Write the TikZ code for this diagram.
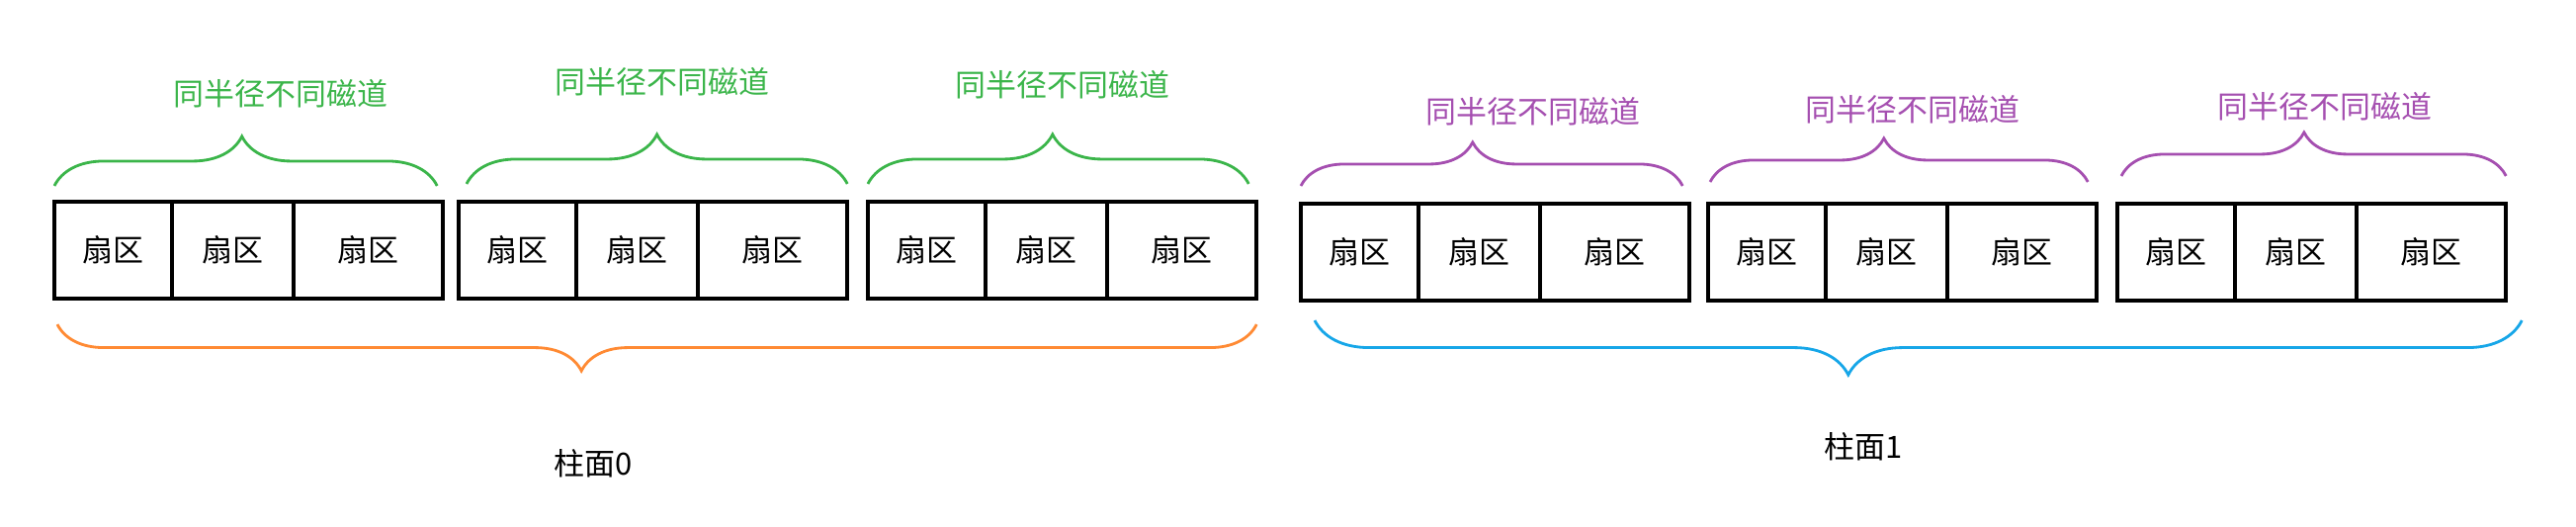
\documentclass[tikz,border=0pt]{standalone}
\usepackage{fontspec}
\newfontfamily\cjk{Noto Sans CJK SC}
\usetikzlibrary{positioning,decorations.pathreplacing}
\definecolor{trackgreen}{RGB}{59,181,74}
\definecolor{trackpurple}{RGB}{165,79,176}
\definecolor{cylorange}{RGB}{255,138,51}
\definecolor{cylblue}{RGB}{22,166,232}

\begin{document}
\begin{tikzpicture}[x=0.01cm, y=0.01cm,
		sector/.style={draw, line width=1.1pt, minimum height=0.98cm, inner sep=0pt,
			outer sep=0pt, font=\cjk\fontsize{8.8}{10}\selectfont},
		sectorA/.style={sector, minimum width=1.19cm},
		sectorB/.style={sector, minimum width=1.23cm},
		sectorC/.style={sector, minimum width=1.51cm},
		cjklabel/.style={font=\cjk\fontsize{8.8}{10}\selectfont},
		gbrace/.style={trackgreen, line width=0.8pt, decorate,
			decoration={brace, amplitude=0.5cm, aspect=#1}},
		pbrace/.style={trackpurple, line width=0.8pt, decorate,
			decoration={brace, amplitude=0.44cm, aspect=#1}},
		cylbrace/.style={line width=0.8pt, decorate,
			decoration={brace, amplitude=0.5cm, aspect=#1}}
		]
		\useasboundingbox (0,0) rectangle (2606,532);

		% tracks of cylinder 0
		\node[sectorA, anchor=west] (S11) at (55,279) {扇区};
		\node[sectorB, right=0pt of S11] (S12) {扇区};
		\node[sectorC, right=0pt of S12] (S13) {扇区};
		\node[sectorA, anchor=west] (S21) at (464,279) {扇区};
		\node[sectorB, right=0pt of S21] (S22) {扇区};
		\node[sectorC, right=0pt of S22] (S23) {扇区};
		\node[sectorA, anchor=west] (S31) at (878,279) {扇区};
		\node[sectorB, right=0pt of S31] (S32) {扇区};
		\node[sectorC, right=0pt of S32] (S33) {扇区};

		% tracks of cylinder 1
		\node[sectorA, anchor=west] (S41) at (1316,277) {扇区};
		\node[sectorB, right=0pt of S41] (S42) {扇区};
		\node[sectorC, right=0pt of S42] (S43) {扇区};
		\node[sectorA, anchor=west] (S51) at (1728,277) {扇区};
		\node[sectorB, right=0pt of S51] (S52) {扇区};
		\node[sectorC, right=0pt of S52] (S53) {扇区};
		\node[sectorA, anchor=west] (S61) at (2142,277) {扇区};
		\node[sectorB, right=0pt of S61] (S62) {扇区};
		\node[sectorC, right=0pt of S62] (S63) {扇区};

		% braces over each track
		\draw[gbrace=0.49] ([yshift=0.16cm]S11.north west) -- ([xshift=-0.06cm, yshift=0.16cm]S13.north east);
		\draw[gbrace=0.5] ([xshift=0.08cm, yshift=0.18cm]S21.north west) -- ([yshift=0.18cm]S23.north east);
		\draw[gbrace=0.485] ([yshift=0.18cm]S31.north west) -- ([xshift=-0.08cm, yshift=0.18cm]S33.north east);
		\draw[pbrace=0.45] ([yshift=0.18cm]S41.north west) -- ([xshift=-0.07cm, yshift=0.18cm]S43.north east);
		\draw[pbrace=0.46] ([xshift=0.02cm, yshift=0.22cm]S51.north west) -- ([xshift=-0.09cm, yshift=0.22cm]S53.north east);
		\draw[pbrace=0.475] ([xshift=0.04cm, yshift=0.28cm]S61.north west) -- ([yshift=0.28cm]S63.north east);

		\node[cjklabel, text=trackgreen] (L1) at (284,437) {同半径不同磁道};
		\node[cjklabel, text=trackgreen] (L2) at (670,449) {同半径不同磁道};
		\node[cjklabel, text=trackgreen] (L3) at (1075,446) {同半径不同磁道};
		\node[cjklabel, text=trackpurple] (L4) at (1551,419) {同半径不同磁道};
		\node[cjklabel, text=trackpurple] (L5) at (1935,421) {同半径不同磁道};
		\node[cjklabel, text=trackpurple] (L6) at (2352,424) {同半径不同磁道};

		% braces under each cylinder
		\draw[cylbrace=0.563, cylorange, decoration={amplitude=0.47cm}]
			([yshift=-0.26cm]S33.south east) -- ([xshift=0.03cm, yshift=-0.26cm]S11.south west);
		\draw[cylbrace=0.558, cylblue, decoration={amplitude=0.55cm}]
			([xshift=0.16cm, yshift=-0.2cm]S63.south east) -- ([xshift=0.14cm, yshift=-0.2cm]S41.south west);

		\node[cjklabel] (C0) at (600,63) {柱面0};
		\node[cjklabel] (C1) at (1885,80) {柱面1};
	\end{tikzpicture}
\end{document}
